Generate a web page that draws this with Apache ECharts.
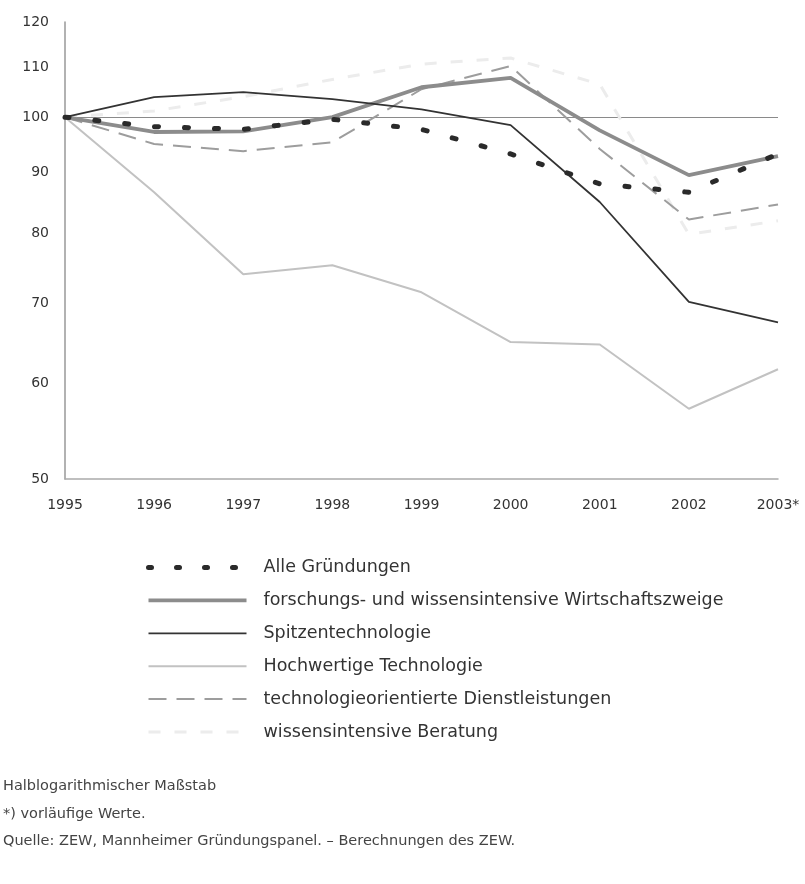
<!DOCTYPE html>
<html>
<head>
<meta charset="utf-8">
<script src="https://cdn.jsdelivr.net/npm/echarts@6/dist/echarts.min.js"></script>
<style>
html,body{margin:0;padding:0;background:#fff;}
#chart{width:805px;height:884px;}
</style>
</head>
<body>
<div id="chart"></div>
<script>
const years = ['1995','1996','1997','1998','1999','2000','2001','2002','2003*'];
const yTicks = [50, 60, 70, 80, 90, 100, 110, 120];
const alleGruendungen = [100, 98.2, 97.7, 99.6, 97.7, 93.2, 88.0, 86.6, 93.2];
const forschungWissen = [100, 97.2, 97.3, 100, 105.9, 107.8, 97.5, 89.5, 92.8];
const spitzentechnologie = [100, 103.9, 104.9, 103.5, 101.5, 98.5, 85.0, 70.2, 67.5];
const hochwertigeTechnologie = [100, 86.6, 74.0, 75.3, 71.5, 65.0, 64.7, 57.2, 61.7];
const techDienstleistungen = [100, 95.0, 93.7, 95.3, 105.5, 110.3, 94.1, 82.2, 84.6];
const wissensBeratung = [100, 101.2, 104.0, 107.5, 110.7, 112.0, 106.5, 79.9, 82.0];
const seriesNames = [
  'Alle Gründungen',
  'forschungs- und wissensintensive Wirtschaftszweige',
  'Spitzentechnologie',
  'Hochwertige Technologie',
  'technologieorientierte Dienstleistungen',
  'wissensintensive Beratung'
];
const notes = [
  'Halblogarithmischer Maßstab',
  '*) vorläufige Werte.',
  'Quelle: ZEW, Mannheimer Gründungspanel. – Berechnungen des ZEW.'
];
const referenceValue = 100;

const FONT = 'DejaVu Sans, Liberation Sans, Arial, sans-serif';
const chart = echarts.init(document.getElementById('chart'), null, {renderer: 'canvas'});

const styles = [
  {color: '#2a2a2a', width: 5, type: [4, 26], cap: 'round', z: 10, legendType: [3, 25]},
  {color: '#8c8c8c', width: 3.8, type: 'solid', cap: 'butt', z: 8},
  {color: '#333333', width: 1.8, type: 'solid', cap: 'butt', z: 9},
  {color: '#c2c2c2', width: 2, type: 'solid', cap: 'butt', z: 6},
  {color: '#9d9d9d', width: 2, type: [18, 10], cap: 'butt', z: 7},
  {color: '#ececec', width: 3, type: [12, 14], cap: 'butt', z: 5}
];
const dataSets = [alleGruendungen, forschungWissen, spitzentechnologie, hochwertigeTechnologie, techDienstleistungen, wissensBeratung];

const series = seriesNames.map(function (name, i) {
  const s = styles[i];
  const obj = {
    name: name,
    type: 'line',
    data: dataSets[i],
    symbol: 'none',
    showSymbol: false,
    z: s.z,
    lineStyle: {color: s.color, width: s.width, type: s.type, cap: s.cap},
    itemStyle: {color: s.color},
    emphasis: {disabled: true}
  };
  if (i === 3) {
    obj.markLine = {
      silent: true,
      symbol: ['none', 'none'],
      label: {show: false},
      lineStyle: {color: '#8a8a8a', width: 1.2, type: 'solid'},
      data: [{yAxis: referenceValue}]
    };
  }
  return obj;
});

const legendData = seriesNames.map(function (name, i) {
  const s = styles[i];
  return {
    name: name,
    lineStyle: {color: s.color, width: s.width, type: s.legendType || s.type, cap: s.cap}
  };
});

const option = {
  animation: false,
  backgroundColor: '#fff',
  grid: {left: 65, right: 27, top: 22, bottom: 405, containLabel: false},
  xAxis: {
    type: 'category',
    data: years,
    boundaryGap: false,
    axisLine: {lineStyle: {color: '#aaaaaa', width: 1.5}},
    axisTick: {show: false},
    axisLabel: {color: '#333', fontSize: 14, fontFamily: FONT, margin: 19},
    splitLine: {show: false}
  },
  yAxis: {
    type: 'log',
    logBase: 10,
    min: 50,
    max: 120,
    axisLine: {show: true, lineStyle: {color: '#999999', width: 1.5}},
    axisTick: {show: false},
    splitLine: {show: false},
    axisLabel: {
      customValues: yTicks,
      color: '#333', fontSize: 14, fontFamily: FONT, margin: 16,
      formatter: function (v) { return String(Math.round(v)); }
    }
  },
  legend: {
    orient: 'vertical',
    left: 141,
    top: 553.5,
    itemWidth: 98,
    itemHeight: 14,
    itemGap: 14.9,
    itemStyle: {opacity: 0},
    textStyle: {color: '#333', fontSize: 17.5, fontFamily: FONT, padding: [0, 0, 0, 12]},
    data: legendData
  },
  series: series,
  graphic: notes.map(function (t, i) {
    return {
      type: 'text',
      left: 3,
      top: 779 + i * 27.5,
      style: {text: t, fill: '#444', fontSize: 14.5, fontFamily: FONT}
    };
  })
};
chart.setOption(option);
</script>
</body>
</html>
